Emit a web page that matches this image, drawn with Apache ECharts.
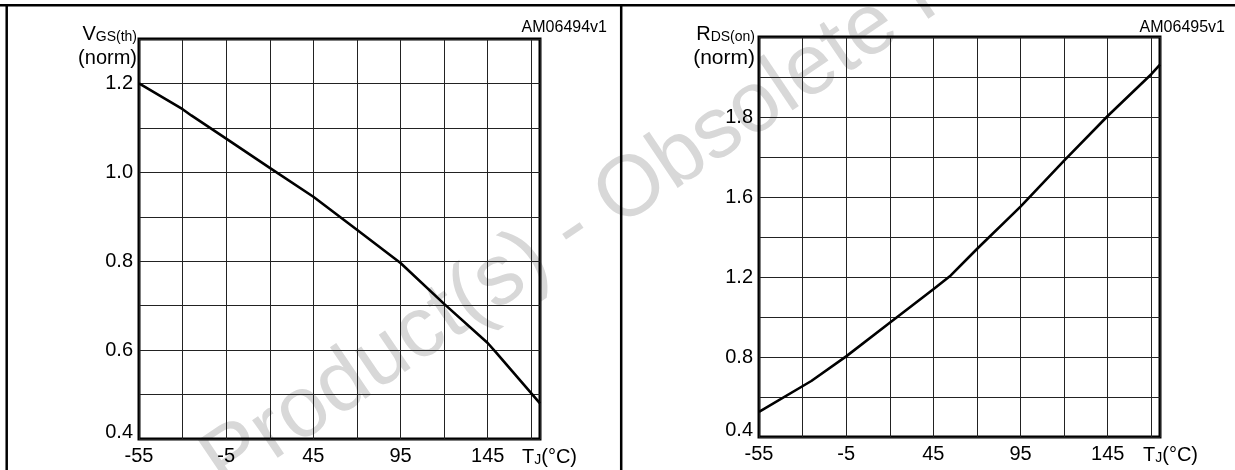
<!DOCTYPE html>
<html>
<head>
<meta charset="utf-8">
<script src="https://cdn.jsdelivr.net/npm/echarts@6/dist/echarts.min.js"></script>
<style>
  html, body { margin: 0; padding: 0; background: #fff; }
  #chart { width: 1235px; height: 470px; }
</style>
</head>
<body>
<div id="chart"></div>
<script>
// Normalized gate threshold voltage vs junction temperature
const tempVgs = [-55, -30, -25, -5, 20, 45, 70, 95, 120, 145, 150, 175];
const vgsNorm = [1.2, 1.142, 1.128, 1.076, 1.01, 0.945, 0.871, 0.796, 0.704, 0.616, 0.594, 0.48];

// Normalized on-resistance vs junction temperature
const tempRds = [-55, -25, -5, 20, 45, 55, 70, 95, 120, 145, 170, 175];
const rdsNorm = [0.526, 0.68, 0.803, 0.971, 1.139, 1.208, 1.34, 1.552, 1.782, 2.005, 2.214, 2.262];

// Labelled ticks
const tempTickValues = [-55, -5, 45, 95, 145];
const tempTickLabels = ['-55', '-5', '45', '95', '145'];
const vgsTickValues = [0.4, 0.6, 0.8, 1.0, 1.2];
const vgsTickLabels = ['0.4', '0.6', '0.8', '1.0', '1.2'];
const rdsTickValues = [0.4, 0.8, 1.2, 1.6, 2.0];
const rdsTickLabels = ['0.4', '0.8', '1.2', '1.6', '1.8'];

const FONT = '"Liberation Sans", Arial, Helvetica, sans-serif';

function pairs(xs, ys) { return xs.map((x, i) => [x, ys[i]]); }

// Only the listed ticks get a label; the lowest y label is lifted clear of the x labels
function tickFormatter(values, labels, liftFirst) {
  return function (v) {
    for (let i = 0; i < values.length; i++) {
      if (Math.abs(v - values[i]) < 1e-6) {
        return (liftFirst && i === 0) ? '{low|' + labels[i] + '}' : '{n|' + labels[i] + '}';
      }
    }
    return '';
  };
}

const chart = echarts.init(document.getElementById('chart'), null, { renderer: 'canvas' });

const gridLine = { show: true, lineStyle: { color: '#222', width: 1 } };

const labelRich = {
  n: { fontFamily: FONT, fontSize: 20, color: '#000' },
  low: { fontFamily: FONT, fontSize: 20, color: '#000', padding: [0, 0, 13, 0] }
};

function xAxisFor(gridIndex, nameGap) {
  return {
    type: 'value', gridIndex: gridIndex,
    min: -55, max: 175, interval: 25,
    axisLine: { show: false }, axisTick: { show: false },
    splitLine: gridLine,
    axisLabel: {
      interval: 0, hideOverlap: false, margin: 7,
      color: '#000', fontFamily: FONT, fontSize: 20,
      formatter: tickFormatter(tempTickValues, tempTickLabels, false),
      rich: labelRich
    },
    name: '{a|T}{b|J}{a|(°C)}',
    nameLocation: 'end', nameGap: nameGap,
    nameTextStyle: {
      align: 'left', verticalAlign: 'top', padding: [6, 0, 0, 0],
      rich: {
        a: { fontFamily: FONT, fontSize: 20, color: '#000', verticalAlign: 'bottom', lineHeight: 22 },
        b: { fontFamily: FONT, fontSize: 14, color: '#000', verticalAlign: 'bottom', lineHeight: 22 }
      }
    }
  };
}

function yAxisFor(gridIndex, min, max, interval, values, labels) {
  return {
    type: 'value', gridIndex: gridIndex,
    min: min, max: max, interval: interval,
    axisLine: { show: false }, axisTick: { show: false },
    splitLine: gridLine,
    axisLabel: {
      interval: 0, hideOverlap: false, margin: 6,
      color: '#000', fontFamily: FONT, fontSize: 20,
      formatter: tickFormatter(values, labels, true),
      rich: labelRich
    }
  };
}

function nameBlock(x, y, big, small, normSize) {
  return {
    type: 'text', silent: true, x: x, y: y,
    style: {
      text: '{a|' + big + '}{b|' + small + '}\n{c|(norm)}',
      textAlign: 'right', textVerticalAlign: 'top',
      rich: {
        a: { fontFamily: FONT, fontSize: 20, color: '#000', verticalAlign: 'bottom', lineHeight: 24 },
        b: { fontFamily: FONT, fontSize: 14, color: '#000', verticalAlign: 'bottom', lineHeight: 24 },
        c: { fontFamily: FONT, fontSize: normSize, color: '#000', lineHeight: 28 }
      }
    }
  };
}

const option = {
  animation: false,
  backgroundColor: '#fff',
  grid: [
    { left: 139, top: 39, right: 695, bottom: 31, show: true, borderColor: '#000', borderWidth: 3, containLabel: false },
    { left: 759, top: 37, right: 75, bottom: 33, show: true, borderColor: '#000', borderWidth: 3, containLabel: false }
  ],
  xAxis: [xAxisFor(0, -18), xAxisFor(1, -17)],
  yAxis: [
    yAxisFor(0, 0.4, 1.3, 0.1, vgsTickValues, vgsTickLabels),
    yAxisFor(1, 0.4, 2.4, 0.2, rdsTickValues, rdsTickLabels)
  ],
  series: [
    {
      type: 'line', xAxisIndex: 0, yAxisIndex: 0,
      data: pairs(tempVgs, vgsNorm),
      showSymbol: false, smooth: false, z: 5,
      lineStyle: { color: '#000', width: 2.6 }
    },
    {
      type: 'line', xAxisIndex: 1, yAxisIndex: 1,
      data: pairs(tempRds, rdsNorm),
      showSymbol: false, smooth: false, z: 5,
      lineStyle: { color: '#000', width: 2.6 }
    }
  ],
  graphic: [
    // diagonal watermark
    {
      type: 'text', z: -10, silent: true,
      x: 236, y: 509, rotation: 34 * Math.PI / 180,
      style: {
        text: 'Product(s) - Obsolete Product(s)',
        fill: '#d8d8d8', fontFamily: FONT, fontSize: 86,
        textAlign: 'left', textVerticalAlign: 'bottom'
      }
    },
    // panel frame
    { type: 'line', silent: true, shape: { x1: 0, y1: 5.3, x2: 1235, y2: 5.3 }, style: { stroke: '#000', lineWidth: 2.5 } },
    { type: 'line', silent: true, shape: { x1: 6.7, y1: 4, x2: 6.7, y2: 470 }, style: { stroke: '#000', lineWidth: 2.5 } },
    { type: 'line', silent: true, shape: { x1: 621.2, y1: 4, x2: 621.2, y2: 470 }, style: { stroke: '#000', lineWidth: 2.5 } },
    // axis titles
    nameBlock(137, 20, 'V', 'GS(th)', 20),
    nameBlock(755, 20, 'R', 'DS(on)', 21),
    // figure codes
    { type: 'text', silent: true, x: 607, y: 27.5, style: { text: 'AM06494v1', fill: '#000', fontFamily: FONT, fontSize: 16, textAlign: 'right', textVerticalAlign: 'middle' } },
    { type: 'text', silent: true, x: 1225, y: 27.3, style: { text: 'AM06495v1', fill: '#000', fontFamily: FONT, fontSize: 16, textAlign: 'right', textVerticalAlign: 'middle' } }
  ]
};

chart.setOption(option);
</script>
</body>
</html>
